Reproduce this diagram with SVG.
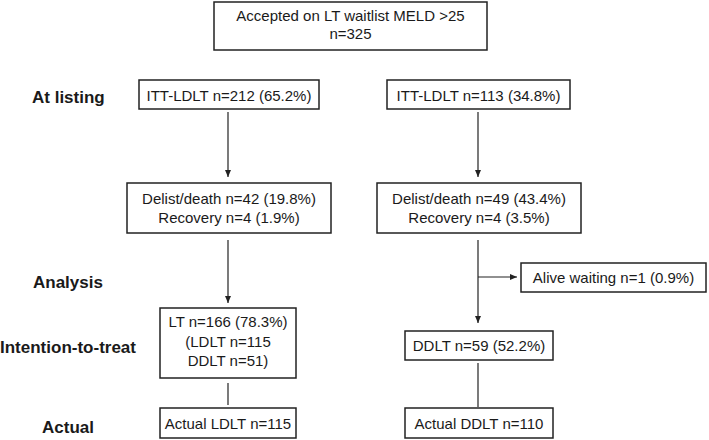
<svg xmlns="http://www.w3.org/2000/svg" width="709" height="440" viewBox="0 0 709 440">
<style>
.box{fill:#fff;stroke:#222;stroke-width:1.5}
.t{font-family:"Liberation Sans",Arial,sans-serif;font-size:15px;fill:#1a1a1a;text-anchor:middle}
.lab{font-family:"Liberation Sans",Arial,sans-serif;font-size:17px;font-weight:bold;fill:#1a1a1a}
.ln{stroke:#222;stroke-width:1.2;fill:none}
</style>
<defs>
<marker id="ah" viewBox="0 0 7 6" refX="7" refY="3" markerWidth="7" markerHeight="6" markerUnits="userSpaceOnUse" orient="auto">
<path d="M0,0 L7,3 L0,6 Z" fill="#222"/>
</marker>
</defs>
<rect width="709" height="440" fill="#fff"/>
<g id="labels">
<text class="lab" x="32" y="103">At listing</text>
<text class="lab" x="33" y="288">Analysis</text>
<text class="lab" x="0" y="353">Intention-to-treat</text>
<text class="lab" x="42" y="433">Actual</text>
</g>
<g id="connectors">
<line class="ln" x1="228" y1="112" x2="228" y2="177" marker-end="url(#ah)"/>
<line class="ln" x1="478" y1="112" x2="478" y2="177" marker-end="url(#ah)"/>
<line class="ln" x1="228" y1="240" x2="228" y2="303" marker-end="url(#ah)"/>
<line class="ln" x1="478" y1="240" x2="478" y2="323" marker-end="url(#ah)"/>
<line class="ln" x1="478" y1="277" x2="517" y2="277" marker-end="url(#ah)"/>
<line class="ln" x1="228" y1="383" x2="228" y2="405"/>
<line class="ln" x1="478" y1="363" x2="478" y2="407"/>
</g>
<g id="top">
<rect class="box" x="214" y="2" width="273" height="48"/>
<text class="t" x="350.5" y="21">Accepted on LT waitlist MELD &gt;25</text>
<text class="t" x="350.5" y="39">n=325</text>
</g>
<g id="itt-left">
<rect class="box" x="139" y="80" width="180" height="29"/>
<text class="t" x="229" y="101">ITT-LDLT n=212 (65.2%)</text>
</g>
<g id="itt-right">
<rect class="box" x="387" y="80" width="183" height="29"/>
<text class="t" x="478.5" y="101">ITT-LDLT n=113 (34.8%)</text>
</g>
<g id="delist-left">
<rect class="box" x="127" y="183" width="204" height="50"/>
<text class="t" x="229" y="204">Delist/death n=42 (19.8%)</text>
<text class="t" x="229" y="223">Recovery n=4 (1.9%)</text>
</g>
<g id="delist-right">
<rect class="box" x="377" y="183" width="204" height="50"/>
<text class="t" x="479" y="204">Delist/death n=49 (43.4%)</text>
<text class="t" x="479" y="223">Recovery n=4 (3.5%)</text>
</g>
<g id="alive">
<rect class="box" x="521" y="263" width="185" height="29"/>
<text class="t" x="613.5" y="283">Alive waiting n=1 (0.9%)</text>
</g>
<g id="lt">
<rect class="box" x="160" y="308" width="136" height="70"/>
<text class="t" x="228" y="327">LT n=166 (78.3%)</text>
<text class="t" x="228" y="347">(LDLT n=115</text>
<text class="t" x="228" y="366">DDLT n=51)</text>
</g>
<g id="ddlt">
<rect class="box" x="405" y="331" width="148" height="29"/>
<text class="t" x="479" y="351">DDLT n=59 (52.2%)</text>
</g>
<g id="actual-ldlt">
<rect class="box" x="160" y="408" width="136" height="30"/>
<text class="t" x="228" y="429">Actual LDLT n=115</text>
</g>
<g id="actual-ddlt">
<rect class="box" x="405" y="408" width="148" height="30"/>
<text class="t" x="479" y="429">Actual DDLT n=110</text>
</g>
</svg>
